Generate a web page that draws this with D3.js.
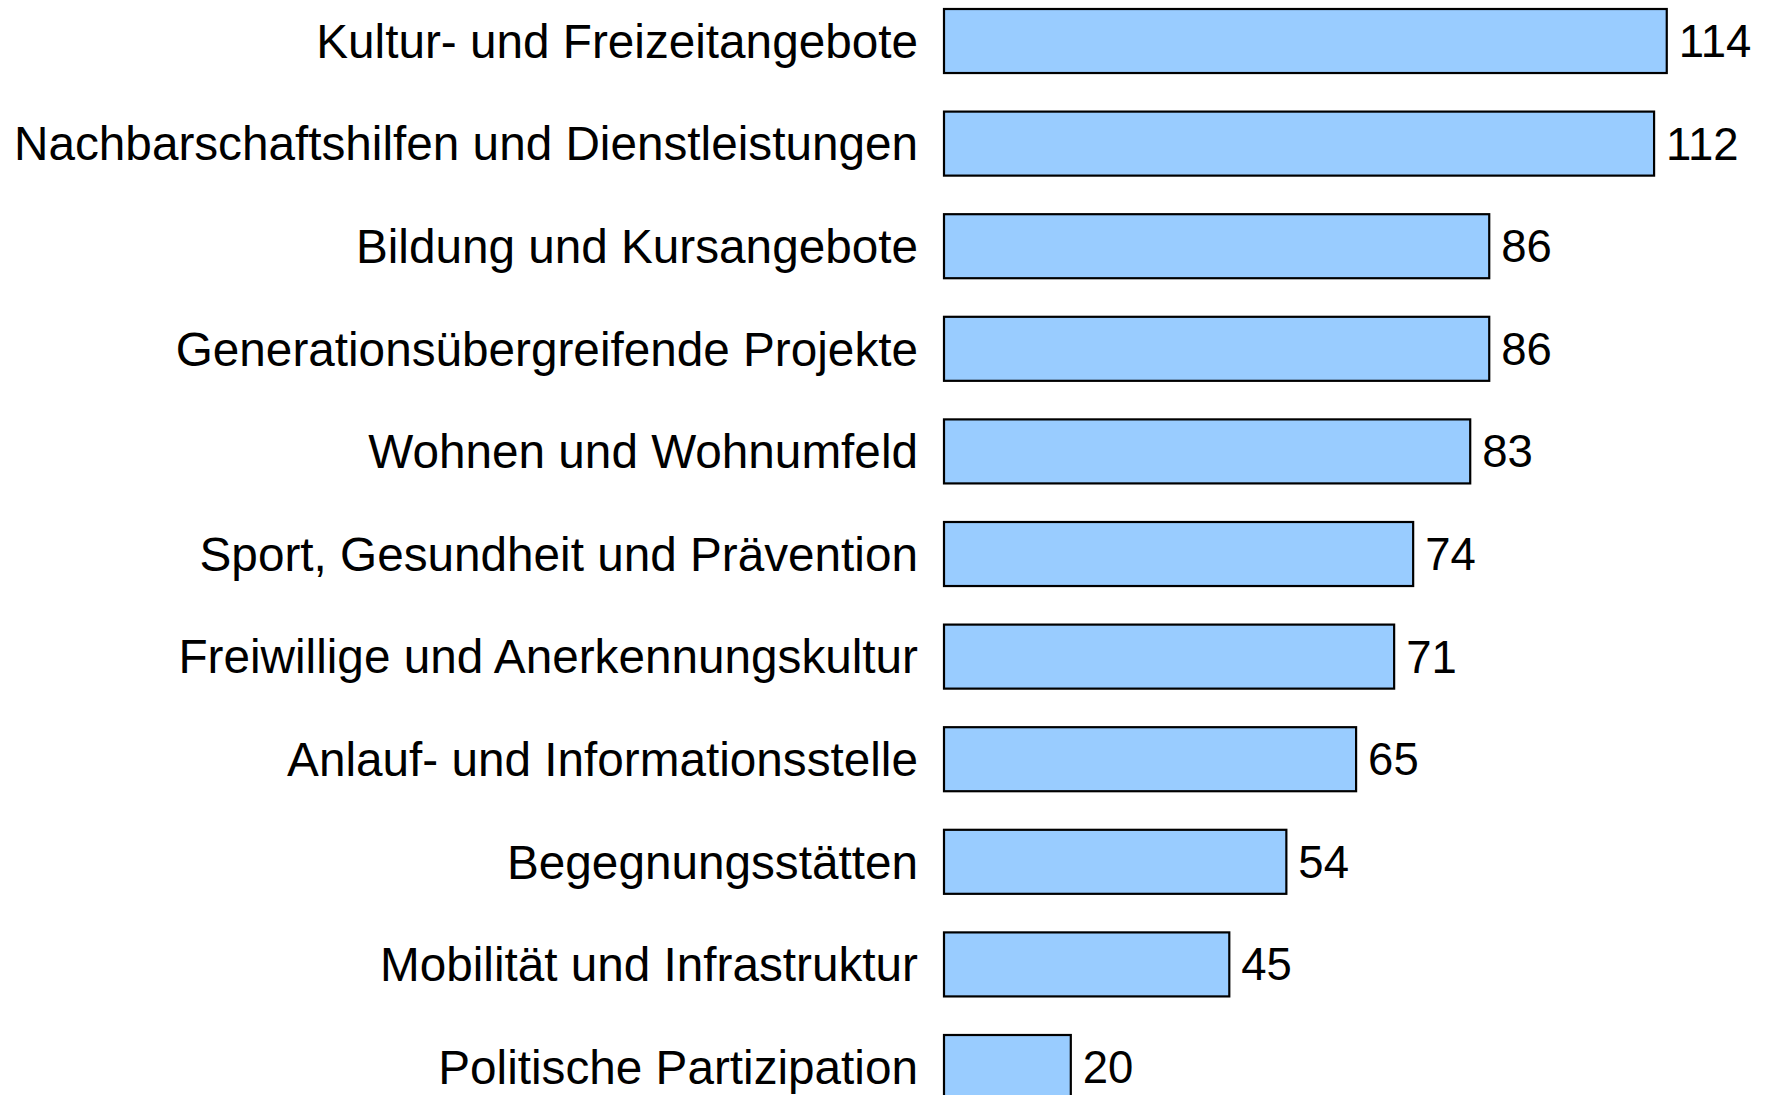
<!DOCTYPE html>
<html><head><meta charset="utf-8">
<script src="https://cdn.jsdelivr.net/npm/d3@7"></script>
<style>html,body{margin:0;padding:0;background:#fff;overflow:hidden}</style>
</head><body><svg id="c" width="1765" height="1095"></svg>
<script>
const categories = ["Kultur- und Freizeitangebote","Nachbarschaftshilfen und Dienstleistungen","Bildung und Kursangebote","Generationsübergreifende Projekte","Wohnen und Wohnumfeld","Sport, Gesundheit und Prävention","Freiwillige und Anerkennungskultur","Anlauf- und Informationsstelle","Begegnungsstätten","Mobilität und Infrastruktur","Politische Partizipation"];
const values = [114,112,86,86,83,74,71,65,54,45,20];

const svg = d3.select("#c");
const x0 = 944, pxPerUnit = 6.34;
const x = d3.scaleLinear().domain([0, 114]).range([x0, x0 + 114*pxPerUnit]);
const step = 102.6, pi = 0.376;
const yTop = 9 - step*pi/2;
const y = d3.scaleBand().domain(categories).range([yTop, yTop + categories.length*step]).paddingInner(pi).paddingOuter(pi/2);

const g = svg.append("g");
g.selectAll("rect").data(values).join("rect")
  .attr("x", x(0)).attr("y", (d,i)=>y(categories[i]))
  .attr("width", d=>x(d)-x(0)).attr("height", y.bandwidth())
  .attr("fill","#99CCFF").attr("stroke","#000").attr("stroke-width",2.2);

g.selectAll("text.cat").data(categories).join("text").attr("class","cat")
  .attr("x", 918).attr("y", d=>y(d)+y.bandwidth()/2).attr("dy","0.35em")
  .attr("text-anchor","end").attr("font-family","Liberation Sans, Arial, sans-serif")
  .attr("font-size",47.7).attr("fill","#000").text(d=>d);

g.selectAll("text.val").data(values).join("text").attr("class","val")
  .attr("x", d=>x(d)+12).attr("y", (d,i)=>y(categories[i])+y.bandwidth()/2).attr("dy","0.35em")
  .attr("font-family","Liberation Sans, Arial, sans-serif")
  .attr("font-size",45.5).attr("fill","#000").text(d=>d);
</script></body></html>
